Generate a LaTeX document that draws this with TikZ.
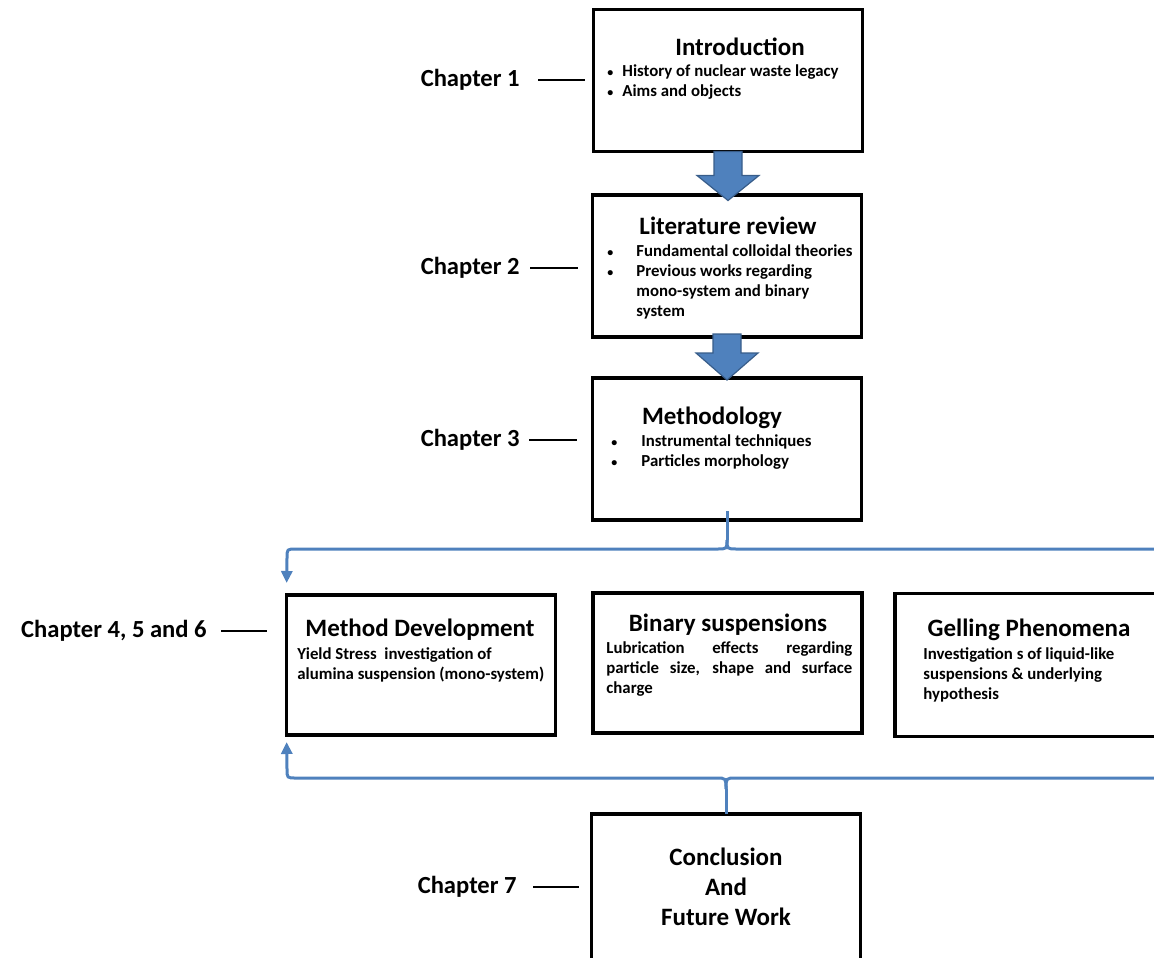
\documentclass[tikz,border=0pt]{standalone}
\usepackage{fontspec}
\setmainfont{Carlito}
\usetikzlibrary{arrows.meta}

\definecolor{ofblue}{HTML}{4F81BD}
\definecolor{ofblueline}{HTML}{385D8A}

\newcommand{\bult}{{\fontsize{6}{6}\selectfont\textbullet}}

\begin{document}
\begin{tikzpicture}[x=0.5pt,y=-0.5pt,
    box/.style={draw, line width=1.8pt, minimum width=134.5pt, minimum height=71pt, inner sep=0pt, outer sep=0pt},
    boxtitle/.style={font=\fontsize{12.5}{15}\selectfont\bfseries, inner sep=0pt},
    boxtext/.style={font=\fontsize{8.4}{10}\selectfont\bfseries, inner sep=0pt},
    chaplabel/.style={font=\fontsize{12.3}{14}\selectfont\bfseries, inner sep=0pt},
    chapline/.style={line width=1.2pt},
    blockarrow/.style={fill=ofblue, draw=ofblueline, line width=0.6pt},
    bracearrow/.style={draw=ofblue, line width=1.5pt}]
		\useasboundingbox (0,0) rectangle (1154,957);
		\clip (0,0) rectangle (1154,957);
		
		% chapter boxes
		\node[box] (intro) at (728,80.5) {};
		\node[box] (lit) at (727,266) {};
		\node[box] (meth) at (727,449) {};
		\node[box, minimum height=70pt] (mdev) at (421,665) {};
		\node[box, minimum height=70pt] (binary) at (727.5,663) {};
		\node[box, minimum height=71.5pt] (gel) at (1029.5,665) {};
		\node[box, minimum height=73pt, boxtitle, align=center] (conc) at (726,887) {Conclusion\\And\\Future Work};
		
		% titles and contents
		\node[boxtitle] (introT) at (740,47) {Introduction};
		\node[boxtext, anchor=base west] (introB) at (607,77) {\begin{tabular}[t]{@{}p{7.5pt}@{}l@{}}\bult & History of nuclear waste legacy\\ \bult & Aims and objects\end{tabular}};
		
		\node[boxtitle] (litT) at (728,226) {Literature review};
		\node[boxtext, anchor=base west] (litB) at (607,256) {\begin{tabular}[t]{@{}p{14.5pt}@{}l@{}}\bult & Fundamental colloidal theories\\ \bult & Previous works regarding\\ & mono-system and binary\\ & system\end{tabular}};
		
		\node[boxtitle] (methT) at (712,418) {Methodology};
		\node[boxtext, anchor=base west] (methB) at (611,446) {\begin{tabular}[t]{@{}p{15pt}@{}l@{}}\bult & Instrumental techniques\\ \bult & Particles morphology\end{tabular}};
		
		\node[boxtitle] (mdevT) at (420,630) {Method Development};
		\node[boxtext, anchor=base west] (mdevB) at (297,659) {\begin{tabular}[t]{@{}l@{}}Yield Stress\ \ investigation of\\ alumina suspension (mono-system)\end{tabular}};
		
		\node[boxtitle] (binaryT) at (728,625) {Binary suspensions};
		\node[boxtext, anchor=base west] (binaryB) at (606,653) {\parbox[t]{123pt}{Lubrication effects regarding\linebreak particle size, shape and surface\linebreak charge}};
		
		\node[boxtitle] (gelT) at (1029,630) {Gelling Phenomena};
		\node[boxtext, anchor=base west] (gelB) at (923,659) {\begin{tabular}[t]{@{}l@{}}Investigation s of liquid-like\\ suspensions \& underlying\\ hypothesis\end{tabular}};
		
		% chapter labels
		\node[chaplabel, anchor=east] (ch1) at (520,80) {Chapter 1};
		\node[chaplabel, anchor=east] (ch2) at (520,268) {Chapter 2};
		\node[chaplabel, anchor=east] (ch3) at (520,440) {Chapter 3};
		\node[chaplabel, anchor=east] (ch4) at (207,631) {Chapter 4, 5 and 6};
		\node[chaplabel, anchor=east] (ch7) at (517,887) {Chapter 7};
		
		\foreach \lbl/\bx/\sa/\sb in {ch1/intro/9/4.5, ch2/lit/5/7.5, ch3/meth/4.5/8, ch4/mdev/7/10, ch7/conc/8/6.5}
			\draw[chapline, shorten <=\sa pt, shorten >=\sb pt] (\lbl.east) -- (\lbl.east -| \bx.west);
		
		% block arrows
		\draw[blockarrow] (intro.south) ++(-14,0) -- ++(0,24) -- ++(-17,0) -- ++(31,25) -- ++(31,-25) -- ++(-17,0) -- ++(0,-24) -- cycle;
		\draw[blockarrow] (lit.south) ++(-14,-3) -- ++(0,19) -- ++(-17,0) -- ++(31,27) -- ++(31,-27) -- ++(-17,0) -- ++(0,-19) -- cycle;
		
		% braces
		\coordinate (topcusp) at (727,540);
		\coordinate (botcusp) at (726,789);
		\draw[bracearrow] ([yshift=4.5pt]meth.south) -- (topcusp);
		\draw[bracearrow, -{Triangle[length=6pt,width=5.5pt]}, shorten >=6pt] (topcusp) .. controls (727,549) .. (717,549) -- (296,549) .. controls (287,549) .. (287,558) -- (mdev.north west);
		\draw[bracearrow] (topcusp) .. controls (727,549) .. (737,549) -- (1170,549);
		\draw[bracearrow] (conc.north) -- (botcusp);
		\draw[bracearrow, -{Triangle[length=6pt,width=5.5pt]}, shorten >=3.5pt] (botcusp) .. controls (726,778) .. (716,778) -- (296,778) .. controls (287,778) .. (287,769) -- (mdev.south west);
		\draw[bracearrow] (botcusp) .. controls (726,778) .. (736,778) -- (1170,778);
	\end{tikzpicture}
\end{document}
